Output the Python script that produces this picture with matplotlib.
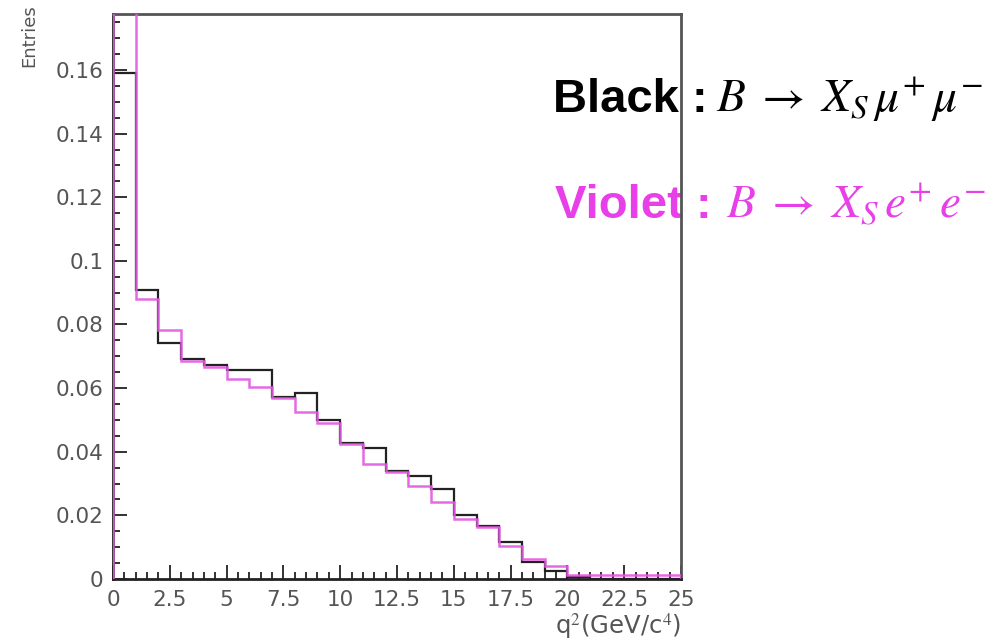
import numpy as np
import matplotlib
matplotlib.use('Agg')
from matplotlib import pyplot as plt
from matplotlib.ticker import MultipleLocator

# q^2 bins (GeV^2/c^4), 1 GeV^2 wide
bin_edges = list(range(0, 26))
mumu = [0.159, 0.0909, 0.0741, 0.0693, 0.0673, 0.0657, 0.0657, 0.0571, 0.0586, 0.0500,
	0.0427, 0.0411, 0.0340, 0.0324, 0.0282, 0.0201, 0.0168, 0.0116, 0.0052, 0.0026,
	0.0005, 0.0, 0.0, 0.0, 0.0]
ee = [0.25, 0.0879, 0.0784, 0.0685, 0.0665, 0.0628, 0.0604, 0.0569, 0.0524, 0.0489,
	0.0423, 0.0360, 0.0336, 0.0292, 0.0243, 0.0190, 0.0163, 0.0105, 0.0063, 0.0040,
	0.0012, 0.0012, 0.0012, 0.0012, 0.0012]
x_ticks = [0, 2.5, 5, 7.5, 10, 12.5, 15, 17.5, 20, 22.5, 25]
x_tick_labels = ['0', '2.5', '5', '7.5', '10', '12.5', '15', '17.5', '20', '22.5', '25']
y_ticks = [0, 0.02, 0.04, 0.06, 0.08, 0.1, 0.12, 0.14, 0.16]
y_tick_labels = ['0', '0.02', '0.04', '0.06', '0.08', '0.1', '0.12', '0.14', '0.16']

W, H = 1001, 642
plt.rcParams['mathtext.fontset'] = 'stix'
plt.rcParams['font.family'] = ['DejaVu Sans']

fig = plt.figure(figsize=(W / 100, H / 100), dpi=100)
ax = fig.add_axes([113 / W, 1 - 579 / H, (681 - 113) / W, (579 - 14) / H])

ax.stairs(mumu, bin_edges, baseline=0, fill=False, color='#222222', lw=1.6, zorder=3)
ax.stairs(ee, bin_edges, baseline=0, fill=False, color='#e25ae2', lw=1.8, alpha=0.9, zorder=4)

ax.set_xlim(0, 25)
ax.set_ylim(0, 0.1776)
ax.set_xticks(x_ticks)
ax.set_xticklabels(x_tick_labels)
ax.set_yticks(y_ticks)
ax.set_yticklabels(y_tick_labels)
ax.xaxis.set_minor_locator(MultipleLocator(0.5))
ax.yaxis.set_minor_locator(MultipleLocator(0.005))
ax.tick_params(which='both', direction='in', top=False, right=False, color='#222222',
	labelcolor='#555555', labelsize=15.5)
ax.tick_params(which='major', length=10, width=1.3)
ax.tick_params(which='minor', length=5, width=1.3)
ax.tick_params(axis='x', pad=8)
ax.tick_params(axis='y', pad=7)
for side in ['top', 'right', 'bottom', 'left']:
	ax.spines[side].set_color('#555555')
	ax.spines[side].set_linewidth(2)
ax.spines['bottom'].set_color('#222222')
ax.spines['left'].set_color('#222222')

# axis titles, ROOT style at the ends of the axes
ax.text(29 / W, 1 - 4 / H, 'Entries', transform=fig.transFigure, rotation=90,
	ha='center', va='top', fontsize=13, color='#555555', clip_on=False)
ax.text(681 / W, 1 - 634 / H, r'q$^{2}$(GeV/c$^{4}$)', transform=fig.transFigure,
	ha='right', va='baseline', fontsize=17.5, color='#555555', clip_on=False)

# legend texts, sitting under the frame
magenta = '#e840e8'
ax.text(553 / W, 1 - 112 / H, 'Black :', transform=fig.transFigure, ha='left',
	va='baseline', fontsize=34, fontweight='bold', family='Liberation Sans',
	color='black', clip_on=False, zorder=1)
ax.text(716 / W, 1 - 112 / H, r'$B\;\rightarrow\;X_{S}\,\mu^{+}\,\mu^{-}$', transform=fig.transFigure,
	ha='left', va='baseline', fontsize=34, color='black', clip_on=False, zorder=1)
ax.text(555 / W, 1 - 218 / H, 'Violet :', transform=fig.transFigure, ha='left',
	va='baseline', fontsize=34, fontweight='bold', family='Liberation Sans',
	color=magenta, clip_on=False, zorder=1)
ax.text(726 / W, 1 - 218 / H, r'$B\;\rightarrow\;X_{S}\,e^{+}\,e^{-}$', transform=fig.transFigure,
	ha='left', va='baseline', fontsize=34, color=magenta, clip_on=False, zorder=1)

fig.savefig('out.png', dpi=100)
plt.close()
